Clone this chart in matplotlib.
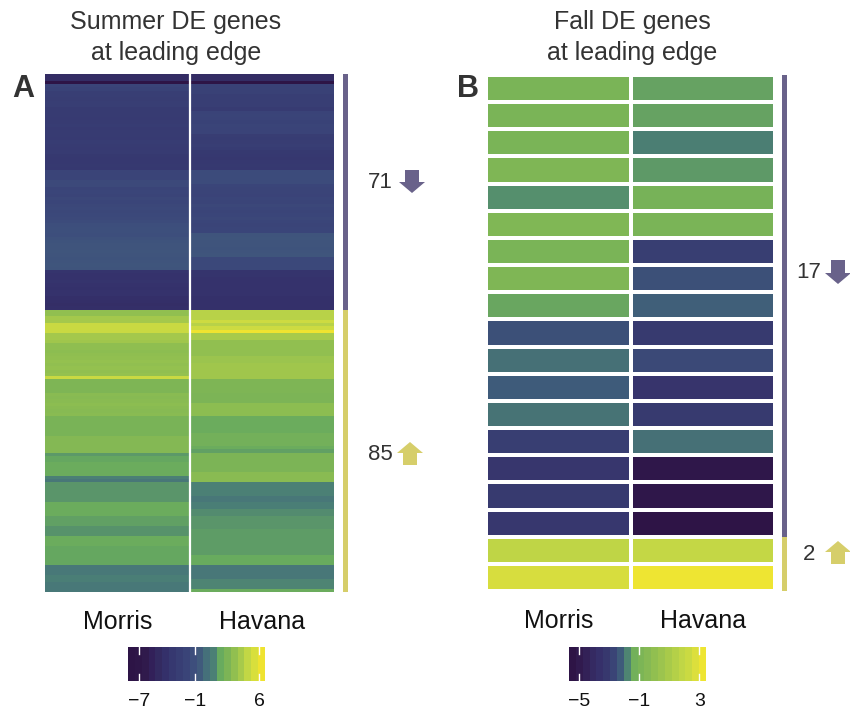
import numpy as np
import matplotlib
matplotlib.use("Agg")
import matplotlib.pyplot as plt
from matplotlib.colors import LinearSegmentedColormap, Normalize
from matplotlib.patches import FancyArrow

plt.rcParams['font.family'] = ['Liberation Sans', 'DejaVu Sans']

# ---------------- data ----------------
columns = ["Morris", "Havana"]

summer_morris = [
    -4.6, -4.6, -7.8, -1.9, -2.1,
    -2.7, -2.6, -2.8, -2.7, -2.6,
    -3.0, -3.0,
    -3.0, -3.1, -3.0, -2.9, -3.1, -3.0, -3.0, -3.1, -2.9, -3.0, -3.1, -3.0,
    -3.3, -3.4, -3.4, -3.3, -3.4,
    -1.9, -1.9, -1.9, -1.5, -1.5,
    -1.9, -1.8, -1.9, -1.7, -1.8, -1.7, -1.6, -1.7, -1.6, -1.5, -1.4,
    -1.2, -1.1, -1.1, -1.2, -1.0,
    -0.9, -0.8, -0.8, -0.7, -0.8, -0.9, -0.8, -0.7, -0.8,
    -3.8, -3.9, -3.9, -3.8, -3.9, -4.0, -3.9, -3.9,
    -4.2, -4.3, -4.4, -4.3,
    # up-regulated
    3.3, 3.3, 3.9, 3.9, 5.0, 5.0, 5.0, 3.9, 3.9, 3.8,
    3.2, 3.2, 3.1, 3.2,
    3.3, 3.4, 3.3, 3.4, 3.3, 3.4,
    5.0,
    2.6, 2.6, 2.6, 2.6,
    3.0, 2.9, 3.0, 3.1, 3.0, 2.9, 3.0,
    2.4, 2.4, 2.4, 2.4, 2.4, 2.4,
    2.8, 2.8, 2.8, 2.8, 2.8,
    1.5, 1.7, 1.7,
    1.9, 1.9, 1.9, 1.9,
    1.1, 0.7,
    1.45, 1.45, 1.45, 1.45, 1.45, 1.45,
    1.9, 1.9, 1.9, 1.9,
    1.6, 1.6, 1.6,
    1.35, 1.35, 1.35,
    1.9, 1.9, 1.9,
    1.7, 1.7, 1.7, 1.7, 1.7, 1.7,
    0.75, 0.75, 0.75, 1.0, 1.0, 0.75, 0.75, 0.75,
]

summer_havana = [
    -4.6, -4.6, -7.8,
    -2.3, -2.3, -2.3,
    -2.7, -2.7, -2.7, -2.7,
    -3.0,
    -2.0, -1.9, -2.0, -2.1, -1.9, -2.0, -2.0,
    -2.8, -2.9, -2.8, -2.7, -2.9,
    -3.3, -3.4, -3.5, -3.4, -3.3, -3.4,
    -1.4, -1.4, -1.4, -1.4,
    -1.8, -1.9, -1.9, -2.0, -1.8, -1.9, -1.7, -1.8, -1.9, -1.8, -1.7, -1.8, -1.9, -1.8, -1.8,
    -0.8, -0.7, -0.8, -0.8, -0.9, -0.8, -0.7,
    -1.6, -1.6, -1.6, -1.6,
    -3.7, -3.7,
    -3.9, -3.9, -3.9, -3.9, -3.9, -3.9,
    -4.1, -4.1, -4.1, -4.1,
    # up-regulated
    4.5, 4.5, 4.5, 5.1, 4.5, 5.1, 6.3,
    4.05, 4.05,
    3.3, 3.3, 3.3, 3.3, 3.3,
    3.6, 3.6,
    3.8, 3.8, 3.8, 3.8, 3.8,
    2.6, 2.6, 2.6, 2.6,
    2.5, 2.5, 2.5,
    3.1, 3.1, 3.1, 3.1,
    1.9, 1.9, 1.9, 1.9, 1.9,
    2.2, 2.2, 2.2, 2.2,
    1.9, 1.6,
    2.5, 2.5, 2.5, 2.5, 2.5, 2.5,
    3.0, 3.0, 3.0,
    1.1, 1.1, 1.1, 1.1, 0.7, 0.7, 1.0, 1.0,
    1.25, 1.25,
    1.45, 1.45, 1.45, 1.45,
    1.55, 1.55, 1.55, 1.55, 1.55, 1.55, 1.55, 1.55,
    1.8, 1.8, 1.8,
    0.7, 0.7, 0.7, 0.7,
    1.15, 1.15, 1.15,
    1.9,
]

fall_morris = [-1.0, -1.0, -1.0, -0.75, -1.7, -0.7, -1.0, -0.75, -1.45,
               -2.45, -2.05, -2.25, -2.0, -2.95, -3.3, -3.1, -3.2,
               1.8, 2.6]
fall_havana = [-1.51, -1.51, -1.9, -1.6, -1.15, -1.0, -2.95, -2.45, -2.2,
               -3.1, -2.6, -3.4, -3.1, -2.05, -5.25, -5.25, -5.5,
               2.0, 3.25]

summer_counts = [71, 85]     # down, up
fall_counts = [17, 2]
summer_ticks = [-7, -1, 6]
fall_ticks = [-5, -1, 3]
summer_range = (-8.2, 6.6)
fall_range = (-5.7, 3.45)

# ---------------- styles ----------------
summer_bins = ["#2d1446", "#2e1648", "#301a4c", "#32205a", "#332a60", "#34306a",
               "#363870", "#383e74", "#3a4478", "#3d4e7c", "#405a7c", "#45707a",
               "#4a7e76", "#68ab5e", "#7cb456", "#90bf50", "#a6c94b", "#c0d646",
               "#d8df3c", "#efe330"]
fall_bins = ["#2e1446", "#311a4e", "#332258", "#352a62", "#36306a", "#37386e",
             "#3a4476", "#3e5a7a", "#4e8672", "#72b05a", "#7cb556", "#86b954",
             "#90bf50", "#9cc44e", "#a8ca4a", "#b4d048", "#c0d646", "#cada42",
             "#dcdf3c", "#eee532"]
down_col = "#69628a"
up_col = "#d6ce6a"
txt_col = "#333333"

W, H = 850, 710


def box(x0, y0, x1, y1):
    return [x0 / W, 1 - y1 / H, (x1 - x0) / W, (y1 - y0) / H]


def make_cmap(bins):
    n = len(bins)
    pos = [0.0] + [(k + 0.5) / n for k in range(n)] + [1.0]
    cols = [bins[0]] + bins + [bins[-1]]
    return LinearSegmentedColormap.from_list("c", list(zip(pos, cols)))


fig = plt.figure(figsize=(W / 100, H / 100), dpi=100)


def panel(hbox, barbox, cbox, m_vals, h_vals, counts, bins, vrange, ticks, gaps):
    cmap = make_cmap(bins)
    norm = Normalize(*vrange)
    data = np.column_stack([m_vals, h_vals])
    n = data.shape[0]
    ax = fig.add_axes(box(*hbox))
    if gaps:
        ax.pcolormesh(np.arange(3), np.arange(n + 1), data, cmap=cmap, norm=norm,
                      edgecolors="white", linewidth=1.5)
    else:
        ax.pcolormesh(np.arange(3), np.arange(n + 1), data, cmap=cmap, norm=norm,
                      linewidth=0, antialiased=False)
        ax.axvline(1, color="white", lw=1.6)
    ax.set_xlim(0, 2)
    ax.set_ylim(n, 0)
    for s in ax.spines.values():
        s.set_visible(False)
    ax.set_yticks([])
    ax.set_xticks([0.5, 1.5])
    ax.set_xticklabels(columns, fontsize=18, color="#111111")
    ax.tick_params(axis="x", length=0, pad=13)

    bx = fig.add_axes(box(*barbox))
    bx.bar([0], [counts[0]], bottom=[0], width=1, color=down_col)
    bx.bar([0], [counts[1]], bottom=[counts[0]], width=1, color=up_col)
    bx.set_xlim(-0.5, 0.5)
    bx.set_ylim(n, 0)
    bx.axis("off")

    cx = fig.add_axes(box(*cbox))
    edges = np.linspace(vrange[0], vrange[1], len(bins) + 1)
    centers = (edges[:-1] + edges[1:]) / 2
    cx.pcolormesh(edges, [0, 1], centers[None, :], cmap=cmap, norm=norm,
                  antialiased=False, linewidth=0)
    for t in ticks:
        cx.plot([t, t], [0, 0.2], color="white", lw=1)
        cx.plot([t, t], [0.8, 1], color="white", lw=1)
    cx.set_xlim(*vrange)
    cx.set_ylim(0, 1)
    for s in cx.spines.values():
        s.set_visible(False)
    cx.set_yticks([])
    cx.set_xticks(ticks)
    cx.set_xticklabels([str(t).replace("-", "\u2212") for t in ticks],
                       fontsize=14, color="#111111")
    cx.tick_params(axis="x", length=0, pad=9)


panel((45, 74, 334, 592), (343, 74, 348, 592), (128, 647, 265, 681),
      summer_morris, summer_havana, summer_counts, summer_bins, summer_range,
      summer_ticks, gaps=False)
panel((486, 75, 775, 591), (782, 75, 787, 591), (569, 647, 706, 681),
      fall_morris, fall_havana, fall_counts, fall_bins, fall_range,
      fall_ticks, gaps=True)

# ---------------- overlay annotations ----------------
ov = fig.add_axes([0, 0, 1, 1], zorder=10)
ov.set_xlim(0, W)
ov.set_ylim(H, 0)
ov.axis("off")
ov.patch.set_alpha(0)

ov.text(176, 22, "Summer DE genes", ha="center", va="center", fontsize=18, color=txt_col)
ov.text(176, 53, "at leading edge", ha="center", va="center", fontsize=18, color=txt_col)
ov.text(632, 22, "Fall DE genes", ha="center", va="center", fontsize=18, color=txt_col)
ov.text(632, 53, "at leading edge", ha="center", va="center", fontsize=18, color=txt_col)

ov.text(23, 89, "A", ha="center", va="center", fontsize=22, fontweight="bold", color=txt_col)
ov.text(468, 89, "B", ha="center", va="center", fontsize=22, fontweight="bold", color=txt_col)

ov.text(393, 183, str(summer_counts[0]), ha="right", va="center", fontsize=16, color=txt_col)
ov.text(393, 455, str(summer_counts[1]), ha="right", va="center", fontsize=16, color=txt_col)
ov.text(821, 273, str(fall_counts[0]), ha="right", va="center", fontsize=16, color=txt_col)
ov.text(815, 554, str(fall_counts[1]), ha="right", va="center", fontsize=16, color=txt_col)


def arrow(xc, ytop, ybot, down, col):
    L = ybot - ytop
    if down:
        a = FancyArrow(xc, ytop, 0, L, width=14, head_width=26, head_length=11,
                       length_includes_head=True, color=col, lw=0)
    else:
        a = FancyArrow(xc, ybot, 0, -L, width=14, head_width=26, head_length=11,
                       length_includes_head=True, color=col, lw=0)
    ov.add_patch(a)


arrow(412, 170, 193, True, down_col)
arrow(410, 442, 465, False, up_col)
arrow(838, 260, 284, True, down_col)
arrow(838, 541, 564, False, up_col)

fig.savefig("out.png", dpi=100)
